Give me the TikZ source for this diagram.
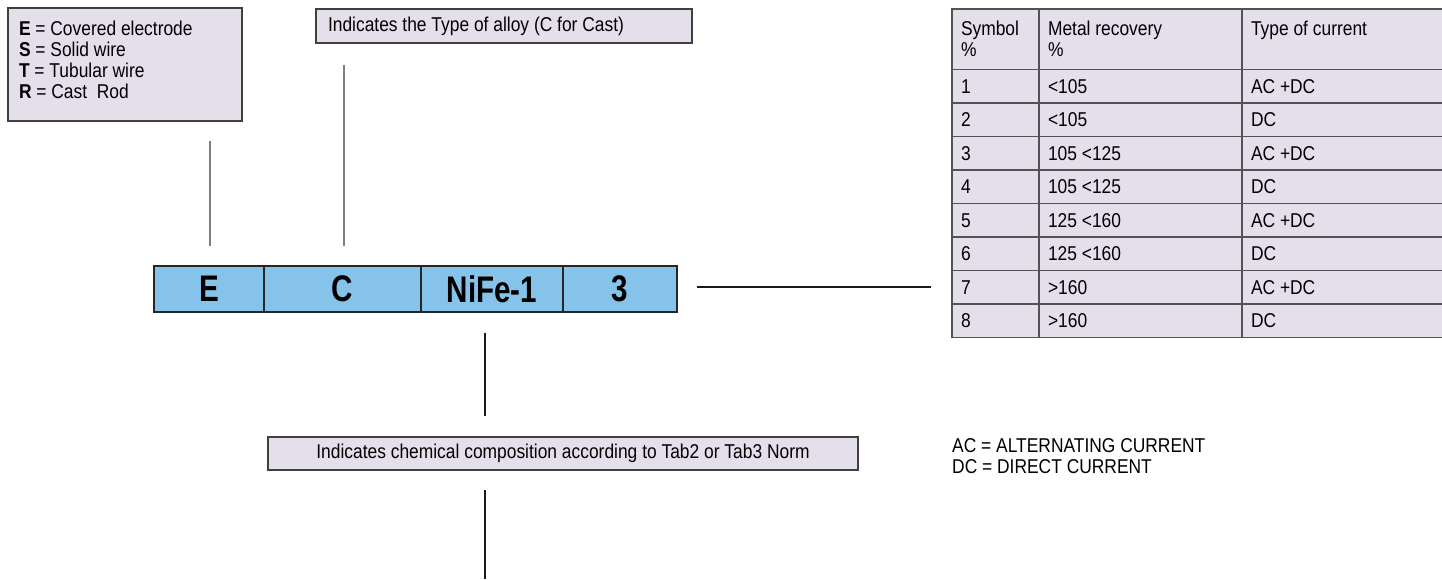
\documentclass[tikz,border=0pt]{standalone}
\usepackage{fontspec}
\setmainfont[FakeStretch=0.87]{Liberation Sans}
\newfontfamily\barfont[FakeStretch=0.8]{Liberation Sans}
\definecolor{lav}{HTML}{E5DFEC}
\definecolor{barblue}{HTML}{85C3EB}
\definecolor{edge}{HTML}{404040}
\definecolor{conngray}{HTML}{7F7F7F}
\begin{document}
\begin{tikzpicture}[x=1pt,y=-1pt,
  txt/.style={font=\fontsize{20}{21}\selectfont},
  infobox/.style={txt,draw=edge,line width=1.4pt,fill=lav,inner sep=0pt},
  barcell/.style={draw=black!85,line width=1.3pt,fill=barblue,minimum height=46pt,inner sep=0pt,
    font=\fontsize{37}{40}\barfont\bfseries},
  tcell/.style={txt,draw=edge!90,line width=1.3pt,fill=lav,inner xsep=9pt,inner ysep=0pt,align=flush left},
  connlight/.style={draw=conngray,line width=1.4pt},
  conndark/.style={draw=black!90,line width=1.2pt}]
\useasboundingbox (0,0) rectangle (1442,579);
\clip (0,0) rectangle (1442,579);

% info boxes
\node[infobox,minimum width=234pt,minimum height=113pt,text width=212pt,align=flush left] (box1) at (125,64.5)
  {\textbf{E} = Covered electrode\\\textbf{S} = Solid wire\\\textbf{T} = Tubular wire\\\textbf{R} = Cast\ \ Rod\rule[-10pt]{0pt}{1pt}};
\node[infobox,minimum width=376pt,minimum height=34pt,text width=352pt,align=flush left] (box2) at (504,26)
  {Indicates the Type of alloy (C for Cast)};
\node[infobox,minimum width=590pt,minimum height=33pt] (box3) at (563,453.5)
  {Indicates chemical composition according to Tab2 or Tab3 Norm};

% code bar
\node[barcell,minimum width=110pt] (cE) at (209,289) {E};
\node[barcell,minimum width=157pt] (cC) at (342.5,289) {C};
\node[barcell,minimum width=142pt] (cN) at (492,289) {NiFe-1};
\node[barcell,minimum width=114pt] (c3) at (620,289) {3};

% table header
\node[tcell,minimum width=87pt,text width=69pt,minimum height=60.5pt] (h1) at (995.5,39.25) {Symbol\\\%};
\node[tcell,minimum width=203pt,text width=185pt,minimum height=60.5pt] (h2) at (1140.5,39.25) {Metal recovery\\\%};
\node[tcell,minimum width=220pt,text width=202pt,minimum height=60.5pt] (h3) at (1352,39.25) {Type of current\\\mbox{}};

% table rows
\foreach \i/\rec/\cur in {1/<105/AC +DC,2/<105/DC,3/105 <125/AC +DC,4/105 <125/DC,
                          5/125 <160/AC +DC,6/125 <160/DC,7/>160/AC +DC,8/>160/DC}{
  \pgfmathsetmacro{\yc}{69.5+33.5*(\i-0.5)}
  \node[tcell,minimum width=87pt,text width=69pt,minimum height=33.5pt] (r\i c1) at (995.5,\yc) {\i};
  \node[tcell,minimum width=203pt,text width=185pt,minimum height=33.5pt] (r\i c2) at (1140.5,\yc) {\rec};
  \node[tcell,minimum width=220pt,text width=202pt,minimum height=33.5pt] (r\i c3) at (1352,\yc) {\cur};
}

% legend
\node[txt,anchor=west,align=flush left,inner sep=0pt] (legend) at (952,456)
  {AC = ALTERNATING CURRENT\\DC = DIRECT CURRENT};

% connectors
\coordinate (bottomend) at (485,579);
\draw[connlight,shorten <=19pt,shorten >=19pt] ([xshift=1pt]box1.south -| cE) -- ([xshift=1pt]cE.north);
\draw[connlight,shorten <=21pt,shorten >=19pt] ([xshift=1.5pt]box2.south -| cC) -- ([xshift=1.5pt]cC.north);
\draw[conndark,shorten <=19pt,shorten >=20pt] ([yshift=2pt]c3.east) -- ([yshift=2pt]c3.east -| r7c1.west);
\draw[conndark,shorten <=20pt,shorten >=20pt] ([xshift=-7pt]cN.south) -- ([xshift=-7pt]cN.south |- box3.north);
\draw[conndark,shorten <=19pt] (box3.south -| bottomend) -- (bottomend);
\end{tikzpicture}
\end{document}
